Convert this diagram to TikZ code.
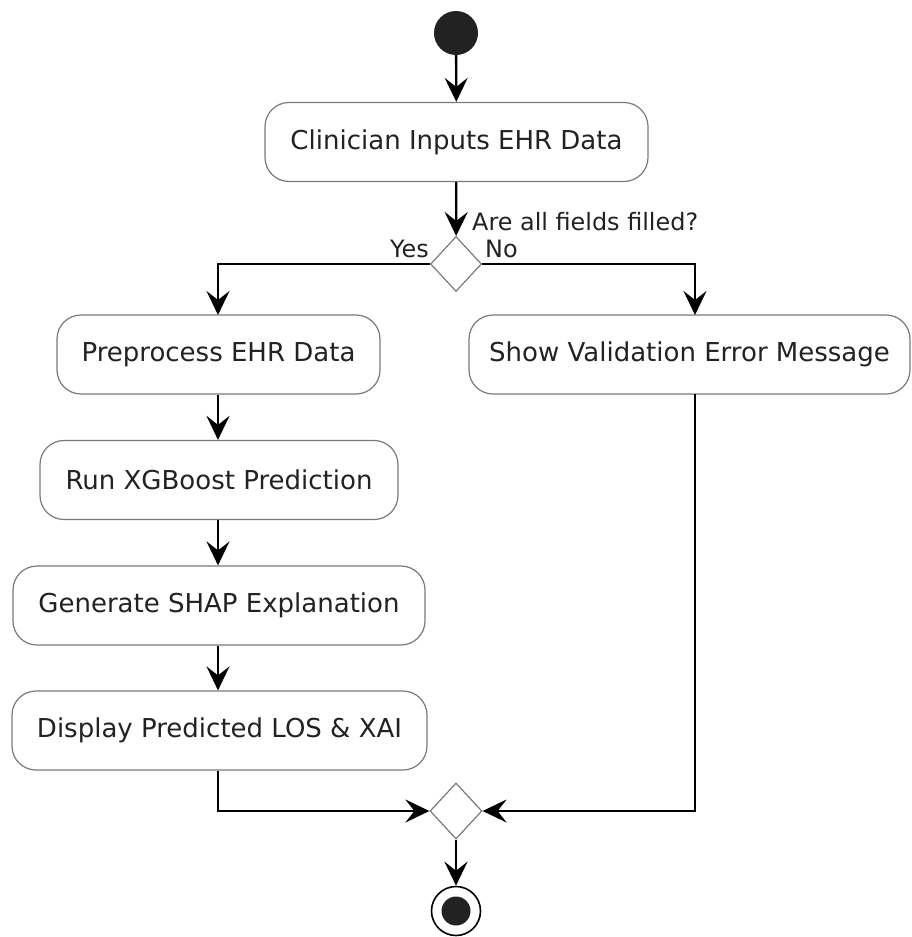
\documentclass[tikz,border=0pt]{standalone}
\usepackage{fontspec}
\setmainfont{DejaVu Sans}
\usetikzlibrary{shapes.geometric,arrows.meta}
\definecolor{ink}{HTML}{222222}
\definecolor{edge}{HTML}{7A7A7A}
\tikzset{
  actbox/.style={draw=edge, line width=1.2pt, fill=white, rounded corners=24pt,
    inner sep=0pt, minimum height=79pt, font=\fontsize{26}{30}\selectfont, text=ink},
  choice/.style={draw=edge, line width=1.2pt, fill=white, diamond, inner sep=0pt},
  flow/.style={draw=black, line width=2.3pt,
    -{Stealth[length=24pt, width=23pt, inset=9pt]}},
  guard/.style={font=\fontsize{23.9}{28}\selectfont, text=ink, inner sep=0pt},
}
\begin{document}
\begin{tikzpicture}[x=1pt, y=-1pt]
  \useasboundingbox (0,0) rectangle (912,937);

  % start and end
  \node (start) [circle, fill=ink, minimum size=44pt, inner sep=0pt] at (456,33) {};
  \node (stop) [circle, draw=black, line width=1.6pt, fill=white, minimum size=49pt, inner sep=0pt] at (456,911) {};
  \node (stopdot) [circle, fill=ink, minimum size=29pt, inner sep=0pt] at (456,911) {};

  % activities
  \node (input) [actbox, minimum width=383pt] at (456.5,142) {Clinician Inputs EHR Data};
  \node (prep)  [actbox, minimum width=323pt] at (218.5,354.5) {Preprocess EHR Data};
  \node (xgb)   [actbox, minimum width=358pt] at (219,480) {Run XGBoost Prediction};
  \node (shap)  [actbox, minimum width=412pt] at (219,605.5) {Generate SHAP Explanation};
  \node (show)  [actbox, minimum width=415pt] at (219.5,730.5) {Display Predicted LOS \& XAI};
  \node (err)   [actbox, minimum width=441pt] at (689.5,354.5) {Show Validation Error Message};

  % decision and merge
  \node (check) [choice, minimum width=51pt, minimum height=55pt] at (456,264) {};
  \node (merge) [choice, minimum width=52pt, minimum height=56pt] at (456,811) {};

  % labels of the decision
  \node (question) [guard, anchor=base west] at (472,230) {Are all fields filled?};
  \node (yes) [guard, anchor=base east] at (429,257) {Yes};
  \node (no)  [guard, anchor=base west] at (485,257) {No};

  % bend points of the branches
  \coordinate (errtop) at (695,315);
  \coordinate (errbot) at (695,394);
  \coordinate (prepin) at (218,315);
  \coordinate (showout) at (218,771);

  % connectors
  \draw[flow] (start) -- (input);
  \draw[flow] (input) -- (check);
  \draw[flow] (check.west) -| (prepin);
  \draw[flow] (check.east) -| (errtop);
  \draw[flow] (prep.south -| prepin) -- (xgb.north -| prepin);
  \draw[flow] (xgb.south -| prepin) -- (shap.north -| prepin);
  \draw[flow] (shap.south -| prepin) -- (show.north -| prepin);
  \draw[flow] (showout) |- (merge.west);
  \draw[flow] (errbot) |- (merge.east);
  \draw[flow] (merge) -- (stop);
\end{tikzpicture}
\end{document}
